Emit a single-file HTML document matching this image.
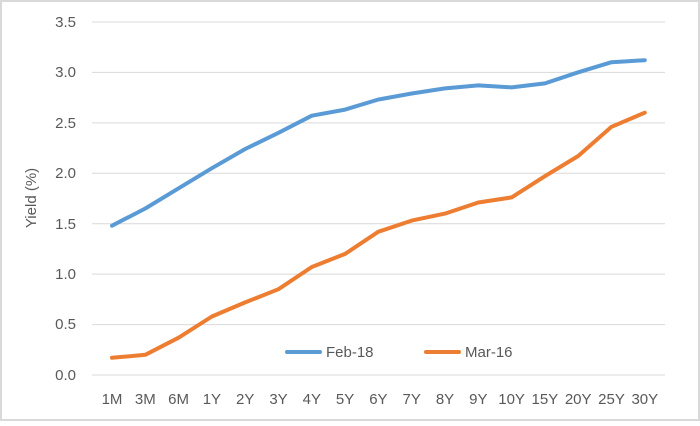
<!DOCTYPE html>
<html><head><style>
html,body{margin:0;padding:0;background:#fff}
</style></head><body>
<svg width="700" height="421" xmlns="http://www.w3.org/2000/svg" font-family="Liberation Sans, sans-serif">
<rect x="1" y="1" width="698" height="419" fill="#fff" stroke="#d9d9d9" stroke-width="2"/>
<g stroke="#d9d9d9" stroke-width="1">
<line x1="92" x2="665" y1="22" y2="22"/>
<line x1="92" x2="665" y1="72.4" y2="72.4"/>
<line x1="92" x2="665" y1="122.9" y2="122.9"/>
<line x1="92" x2="665" y1="173.3" y2="173.3"/>
<line x1="92" x2="665" y1="223.7" y2="223.7"/>
<line x1="92" x2="665" y1="274.1" y2="274.1"/>
<line x1="92" x2="665" y1="324.6" y2="324.6"/>
<line x1="92" x2="665" y1="375" y2="375"/>
</g>
<g font-size="15" fill="#595959" text-anchor="end">
<text x="76" y="27">3.5</text><text x="76" y="77">3.0</text><text x="76" y="128">2.5</text><text x="76" y="178">2.0</text><text x="76" y="229">1.5</text><text x="76" y="279">1.0</text><text x="76" y="329">0.5</text><text x="76" y="380">0.0</text>
</g>
<text transform="translate(36,198) rotate(-90)" font-size="15" fill="#595959" text-anchor="middle">Yield (%)</text>
<g font-size="15" fill="#595959" text-anchor="middle">
<text x="112" y="404">1M</text><text x="145.3" y="404">3M</text><text x="178.6" y="404">6M</text><text x="211.9" y="404">1Y</text><text x="245.2" y="404">2Y</text><text x="278.5" y="404">3Y</text><text x="311.8" y="404">4Y</text><text x="345.1" y="404">5Y</text><text x="378.4" y="404">6Y</text><text x="411.7" y="404">7Y</text><text x="445" y="404">8Y</text><text x="478.3" y="404">9Y</text><text x="511.6" y="404">10Y</text><text x="544.9" y="404">15Y</text><text x="578.2" y="404">20Y</text><text x="611.5" y="404">25Y</text><text x="644.8" y="404">30Y</text>
</g>
<polyline fill="none" stroke="#5b9bd5" stroke-width="4" stroke-linejoin="round" stroke-linecap="round" points="112,225.7 145.3,208.5 178.6,188.3 211.9,168.2 245.2,149 278.5,132.8 311.8,115.7 345.1,109.6 378.4,99.5 411.7,93.5 445,88.4 478.3,85.4 511.6,87.4 544.9,83.4 578.2,72.3 611.5,62.2 644.8,60.2"/>
<polyline fill="none" stroke="#ed7d31" stroke-width="4" stroke-linejoin="round" stroke-linecap="round" points="112,357.8 145.3,354.8 178.6,337.7 211.9,316.5 245.2,302.4 278.5,289.2 311.8,267 345.1,253.9 378.4,231.7 411.7,220.6 445,213.6 478.3,202.5 511.6,197.4 544.9,176.2 578.2,156 611.5,126.8 644.8,112.7"/>
<line x1="287" x2="320" y1="352" y2="352" stroke="#5b9bd5" stroke-width="4" stroke-linecap="round"/>
<text x="326" y="357" font-size="15" fill="#595959">Feb-18</text>
<line x1="426" x2="459" y1="352" y2="352" stroke="#ed7d31" stroke-width="4" stroke-linecap="round"/>
<text x="465" y="357" font-size="15" fill="#595959">Mar-16</text>
</svg>
</body></html>
